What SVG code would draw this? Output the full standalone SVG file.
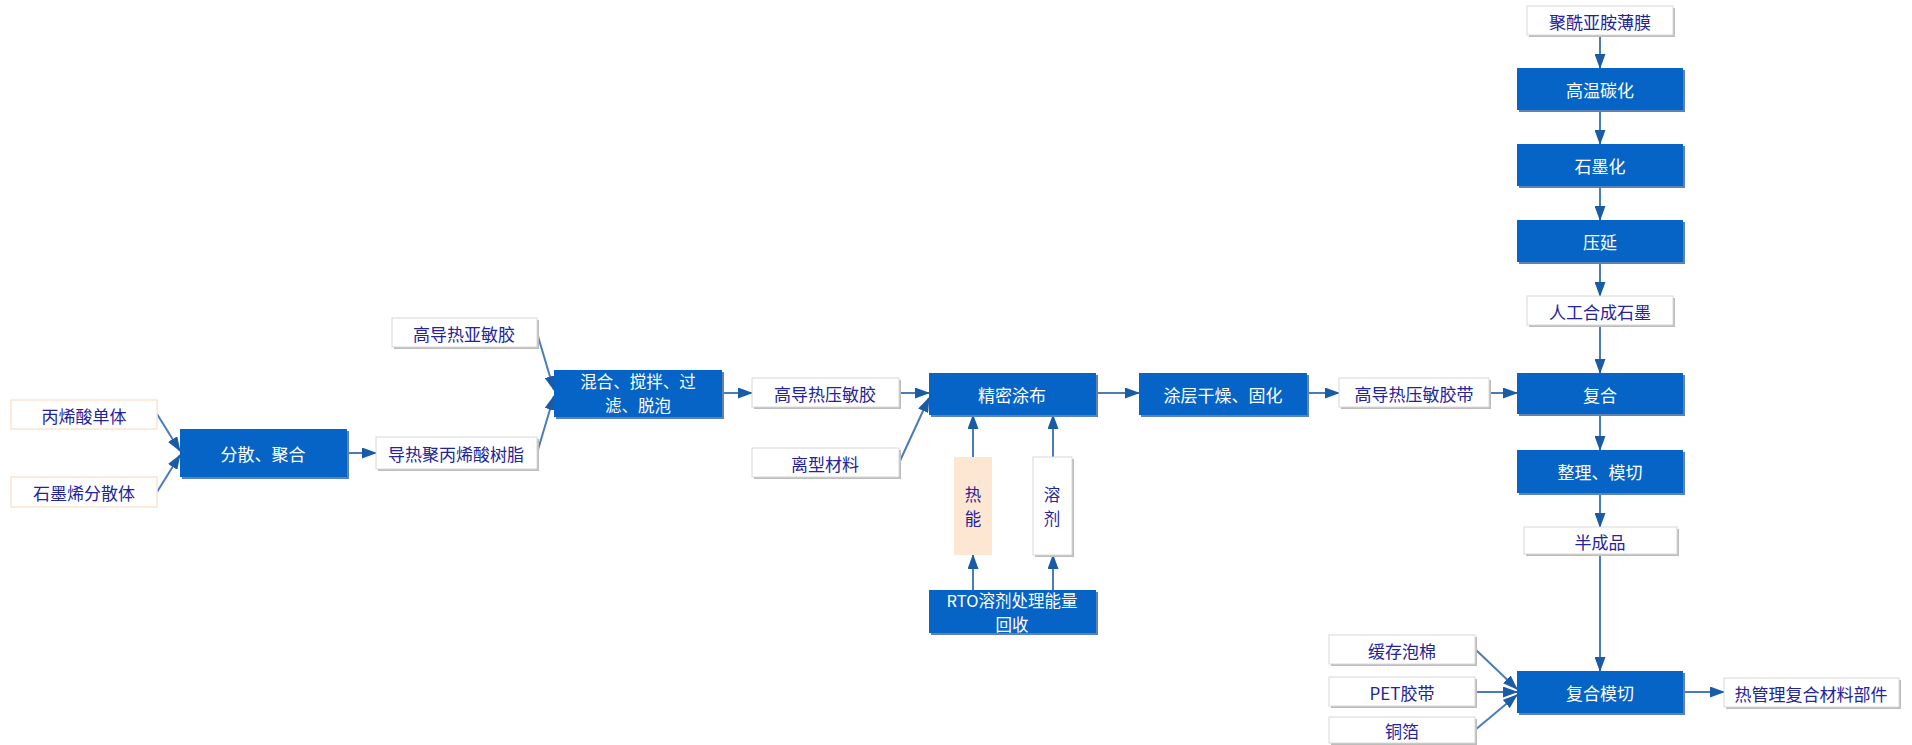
<svg xmlns="http://www.w3.org/2000/svg" width="1912" height="745" viewBox="0 0 1912 745">
<defs>
<marker id="ah" markerUnits="userSpaceOnUse" markerWidth="15" markerHeight="11" refX="14" refY="5.5" orient="auto">
<path d="M0,0 L15,5.5 L0,11 z" fill="#1a5ba6"/>
</marker>
</defs>
<style>
text{font-family:"Noto Sans CJK SC","Noto Sans",sans-serif;font-size:17px;text-anchor:middle;dominant-baseline:central}
text.t2{font-size:16.5px}
.b rect.m{fill:#0564c6}
.b rect.s{fill:#5d83b5}
.b text{fill:#ffffff}
.w rect.m{fill:#ffffff;stroke:#d8d8d8;stroke-width:1}
.w rect.s{fill:#bdbdbd}
.w text{fill:#23239b}
.p rect.m{fill:#ffffff;stroke:#fbe3d2;stroke-width:1.5}
.p text{fill:#23239b}
.h rect.m{fill:#fde6d2}
.h text{fill:#23239b}
#conn line{stroke:#4a7cb8;stroke-width:2;marker-end:url(#ah)}
</style>
<rect width="1912" height="745" fill="#ffffff"/>

<g id="conn">
<line x1="157" y1="414" x2="180" y2="451"/>
<line x1="157" y1="492" x2="180" y2="455"/>
<line x1="347" y1="453" x2="376" y2="453"/>
<line x1="537" y1="333" x2="554" y2="390"/>
<line x1="537" y1="453" x2="554" y2="396"/>
<line x1="722" y1="393" x2="752" y2="393"/>
<line x1="899" y1="393" x2="929" y2="393"/>
<line x1="899" y1="463" x2="929" y2="398"/>
<line x1="973" y1="457" x2="973" y2="415"/>
<line x1="1053" y1="457" x2="1053" y2="415"/>
<line x1="973" y1="590" x2="973" y2="555"/>
<line x1="1053" y1="590" x2="1053" y2="555"/>
<line x1="1096" y1="393" x2="1139" y2="393"/>
<line x1="1307" y1="393" x2="1339" y2="393"/>
<line x1="1489" y1="393" x2="1517" y2="393"/>
<line x1="1600" y1="35" x2="1600" y2="68"/>
<line x1="1600" y1="110" x2="1600" y2="144"/>
<line x1="1600" y1="186" x2="1600" y2="220"/>
<line x1="1600" y1="262" x2="1600" y2="296"/>
<line x1="1600" y1="325" x2="1600" y2="373"/>
<line x1="1600" y1="414" x2="1600" y2="450"/>
<line x1="1600" y1="493" x2="1600" y2="527"/>
<line x1="1600" y1="554" x2="1600" y2="671"/>
<line x1="1475" y1="649" x2="1517" y2="689"/>
<line x1="1475" y1="692" x2="1517" y2="692"/>
<line x1="1475" y1="730" x2="1517" y2="695"/>
<line x1="1683" y1="692" x2="1724" y2="692"/>
</g>

<g id="n_bxs" class="p"><rect class="m" x="11" y="400" width="146" height="29"/><text x="84" y="415">丙烯酸单体</text></g>
<g id="n_smx" class="p"><rect class="m" x="11" y="477" width="146" height="30"/><text x="84" y="492">石墨烯分散体</text></g>
<g id="n_fsjh" class="b"><rect class="s" x="182" y="431" width="167" height="48"/><rect class="m" x="180" y="429" width="167" height="48"/><text x="263" y="453">分散、聚合</text></g>
<g id="n_drj" class="w"><rect class="s" x="378" y="439" width="161" height="32"/><rect class="m" x="376" y="437" width="161" height="32"/><text x="456" y="453">导热聚丙烯酸树脂</text></g>
<g id="n_gdry" class="w"><rect class="s" x="394" y="320" width="145" height="29"/><rect class="m" x="392" y="318" width="145" height="29"/><text x="464" y="333">高导热亚敏胶</text></g>
<g id="n_hh" class="b"><rect class="s" x="556" y="372" width="168" height="47"/><rect class="m" x="554" y="370" width="168" height="47"/><text class="t2" x="638" y="381">混合、搅拌、过</text><text class="t2" x="638" y="405">滤、脱泡</text></g>
<g id="n_gdyj" class="w"><rect class="s" x="754" y="380" width="147" height="29"/><rect class="m" x="752" y="378" width="147" height="29"/><text x="825" y="393">高导热压敏胶</text></g>
<g id="n_lx" class="w"><rect class="s" x="754" y="450" width="147" height="29"/><rect class="m" x="752" y="448" width="147" height="29"/><text x="825" y="463">离型材料</text></g>
<g id="n_jmtb" class="b"><rect class="s" x="931" y="375" width="167" height="42"/><rect class="m" x="929" y="373" width="167" height="42"/><text x="1012" y="394">精密涂布</text></g>
<g id="n_rn" class="h"><rect class="m" x="954" y="457" width="38" height="98"/><text class="t2" x="973" y="494">热</text><text class="t2" x="973" y="518">能</text></g>
<g id="n_rj" class="w"><rect class="s" x="1035" y="459" width="39" height="98"/><rect class="m" x="1033" y="457" width="39" height="98"/><text class="t2" x="1052" y="494">溶</text><text class="t2" x="1052" y="518">剂</text></g>
<g id="n_rto" class="b"><rect class="s" x="931" y="592" width="167" height="43"/><rect class="m" x="929" y="590" width="167" height="43"/><text class="t2" x="1012" y="600">RTO溶剂处理能量</text><text class="t2" x="1012" y="624">回收</text></g>
<g id="n_tcgz" class="b"><rect class="s" x="1141" y="375" width="168" height="42"/><rect class="m" x="1139" y="373" width="168" height="42"/><text x="1223" y="394">涂层干燥、固化</text></g>
<g id="n_gdyjd" class="w"><rect class="s" x="1341" y="380" width="150" height="29"/><rect class="m" x="1339" y="378" width="150" height="29"/><text x="1414" y="393">高导热压敏胶带</text></g>
<g id="n_jxy" class="w"><rect class="s" x="1529" y="8" width="146" height="29"/><rect class="m" x="1527" y="6" width="146" height="29"/><text x="1600" y="21">聚酰亚胺薄膜</text></g>
<g id="n_gwth" class="b"><rect class="s" x="1519" y="70" width="166" height="42"/><rect class="m" x="1517" y="68" width="166" height="42"/><text x="1600" y="89">高温碳化</text></g>
<g id="n_smh" class="b"><rect class="s" x="1519" y="146" width="166" height="42"/><rect class="m" x="1517" y="144" width="166" height="42"/><text x="1600" y="165">石墨化</text></g>
<g id="n_yy" class="b"><rect class="s" x="1519" y="222" width="166" height="42"/><rect class="m" x="1517" y="220" width="166" height="42"/><text x="1600" y="241">压延</text></g>
<g id="n_rgsm" class="w"><rect class="s" x="1529" y="298" width="146" height="29"/><rect class="m" x="1527" y="296" width="146" height="29"/><text x="1600" y="311">人工合成石墨</text></g>
<g id="n_fh" class="b"><rect class="s" x="1519" y="375" width="166" height="41"/><rect class="m" x="1517" y="373" width="166" height="41"/><text x="1600" y="394">复合</text></g>
<g id="n_zlmq" class="b"><rect class="s" x="1519" y="452" width="166" height="43"/><rect class="m" x="1517" y="450" width="166" height="43"/><text x="1600" y="471">整理、模切</text></g>
<g id="n_bcp" class="w"><rect class="s" x="1526" y="529" width="153" height="27"/><rect class="m" x="1524" y="527" width="153" height="27"/><text x="1600" y="541">半成品</text></g>
<g id="n_hcpm" class="w"><rect class="s" x="1331" y="637" width="146" height="29"/><rect class="m" x="1329" y="635" width="146" height="29"/><text x="1402" y="650">缓存泡棉</text></g>
<g id="n_pet" class="w"><rect class="s" x="1331" y="679" width="146" height="29"/><rect class="m" x="1329" y="677" width="146" height="29"/><text x="1402" y="692">PET胶带</text></g>
<g id="n_tb" class="w"><rect class="s" x="1331" y="719" width="146" height="26"/><rect class="m" x="1329" y="717" width="146" height="26"/><text x="1402" y="730">铜箔</text></g>
<g id="n_fhmq" class="b"><rect class="s" x="1519" y="673" width="166" height="42"/><rect class="m" x="1517" y="671" width="166" height="42"/><text x="1600" y="692">复合模切</text></g>
<g id="n_rgl" class="w"><rect class="s" x="1726" y="680" width="175" height="29"/><rect class="m" x="1724" y="678" width="175" height="29"/><text x="1811" y="693">热管理复合材料部件</text></g>
</svg>
